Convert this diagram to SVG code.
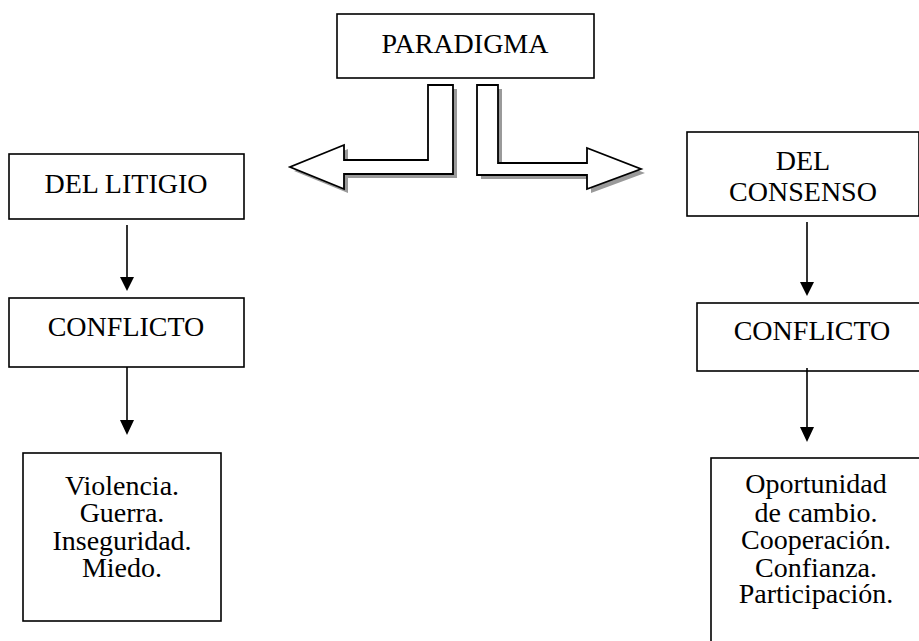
<svg xmlns="http://www.w3.org/2000/svg" width="919" height="641" viewBox="0 0 919 641">
  <style>
    .box { fill: #ffffff; stroke: #000000; stroke-width: 1.6; }
    .lbl { font-family: "Liberation Serif", "Times New Roman", serif; font-size: 28px; fill: #000000; text-anchor: middle; }
    .link { stroke: #000000; stroke-width: 1.6; fill: none; }
    .head { fill: #000000; }
    .bent { fill: #ffffff; stroke: #000000; stroke-width: 1.8; stroke-linejoin: miter; }
    .shadow { fill: #9a9a9a; }
  </style>

  <rect width="919" height="641" fill="#ffffff"/>

  <!-- top node -->
  <g id="paradigma">
    <rect class="box" x="337" y="14" width="257" height="64"/>
    <text class="lbl" x="465" y="53">PARADIGMA</text>
  </g>

  <!-- bent block arrows leaving the top node -->
  <g id="bent-arrows">
    <path class="shadow" transform="translate(4,4)" d="M428,85 L453,85 L453,174 L344,174 L344,189 L290,167 L344,145 L344,160 L428,160 Z"/>
    <path class="bent" d="M428,85 L453,85 L453,174 L344,174 L344,189 L290,167 L344,145 L344,160 L428,160 Z"/>
    <path class="shadow" transform="translate(4,4)" d="M477,85 L498,85 L498,163 L587,163 L587,148 L641,169 L587,189 L587,175 L477,175 Z"/>
    <path class="bent" d="M477,85 L498,85 L498,163 L587,163 L587,148 L641,169 L587,189 L587,175 L477,175 Z"/>
  </g>

  <!-- left column -->
  <g id="del-litigio">
    <rect class="box" x="9" y="154" width="235" height="65"/>
    <text class="lbl" x="126" y="193">DEL LITIGIO</text>
  </g>
  <g id="conflicto-litigio">
    <rect class="box" x="9" y="298" width="235" height="69"/>
    <text class="lbl" x="126" y="336">CONFLICTO</text>
  </g>
  <g id="efectos-litigio">
    <rect class="box" x="23" y="453" width="198" height="168"/>
    <text class="lbl" x="122" y="495">Violencia.</text>
    <text class="lbl" x="122" y="522">Guerra.</text>
    <text class="lbl" x="122" y="550">Inseguridad.</text>
    <text class="lbl" x="122" y="577">Miedo.</text>
  </g>

  <!-- right column -->
  <g id="del-consenso">
    <rect class="box" x="687" y="132" width="232" height="84"/>
    <text class="lbl" x="803" y="170">DEL</text>
    <text class="lbl" x="803" y="201">CONSENSO</text>
  </g>
  <g id="conflicto-consenso">
    <rect class="box" x="697" y="303" width="230" height="68"/>
    <text class="lbl" x="812" y="340">CONFLICTO</text>
  </g>
  <g id="efectos-consenso">
    <rect class="box" x="711" y="458" width="211" height="200"/>
    <text class="lbl" x="816" y="493">Oportunidad</text>
    <text class="lbl" x="816" y="522">de cambio.</text>
    <text class="lbl" x="816" y="549">Cooperación.</text>
    <text class="lbl" x="816" y="577">Confianza.</text>
    <text class="lbl" x="816" y="603">Participación.</text>
  </g>

  <!-- connectors -->
  <g id="connectors">
    <line class="link" x1="127" y1="225" x2="127" y2="278"/>
    <polygon class="head" points="120,277 134,277 127,291"/>
    <line class="link" x1="127" y1="367" x2="127" y2="421"/>
    <polygon class="head" points="120,420 134,420 127,435"/>
    <line class="link" x1="807" y1="222" x2="807" y2="283"/>
    <polygon class="head" points="800,282 814,282 807,296"/>
    <line class="link" x1="807" y1="368" x2="807" y2="428"/>
    <polygon class="head" points="800,427 814,427 807,442"/>
  </g>
</svg>
